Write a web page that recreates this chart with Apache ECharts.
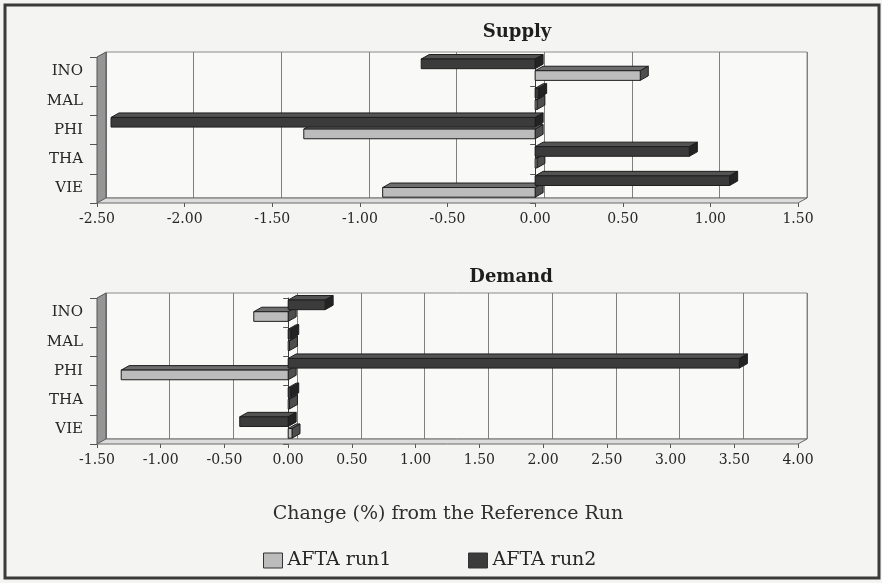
<!DOCTYPE html>
<html>
<head>
<meta charset="utf-8">
<script src="https://cdn.jsdelivr.net/npm/echarts@6/dist/echarts.min.js"></script>
<style>
  html, body { margin: 0; padding: 0; background: #f4f4f2; }
  #chart { width: 882px; height: 583px; }
</style>
</head>
<body>
<div id="chart"></div>
<script>
// ---- data ----
const categories = ['INO', 'MAL', 'PHI', 'THA', 'VIE'];
const seriesNames = ['AFTA run1', 'AFTA run2'];
const panelTitles = ['Supply', 'Demand'];
const axisTitle = 'Change (%) from the Reference Run';

const supplyRun1 = [0.60, 0.01, -1.32, 0.01, -0.87];
const supplyRun2 = [-0.65, 0.02, -2.42, 0.88, 1.11];
const demandRun1 = [-0.27, 0.01, -1.31, 0.01, 0.03];
const demandRun2 = [0.29, 0.02, 3.54, 0.02, -0.38];

const supplyScale = [-2.5, 1.5, 0.5];   // min, max, interval
const demandScale = [-1.5, 4.0, 0.5];

// ---- layout & style ----
const FONT = 'DejaVu Serif';
const PLOT_LEFT = 97, PLOT_W = 701, PLOT_H = 146;
const WALL_DX = 9, WALL_DY = 5;          // depth of the back wall
const BAR_DX = 8, BAR_DY = 4.5;          // depth of each bar prism
const panelTops = [57, 298];
// vertical slot of each run inside a category band (fractions of band height)
const slots = [[0.47, 0.80], [0.07, 0.40]];
const faceColors = [
  { front: '#bcbcbc', top: '#6e6e6e', side: '#4e4e4e' },
  { front: '#3b3b3b', top: '#535353', side: '#232323' }
];
const EDGE = '#1e1e1e';

const panels = [
  { runs: [supplyRun1, supplyRun2], scale: supplyScale },
  { runs: [demandRun1, demandRun2], scale: demandScale }
];

const grid = [], xAxis = [], yAxis = [], series = [];

function prismItem(runIdx) {
  return function (params, api) {
    const v = api.value(0), ci = api.value(1);
    const p0 = api.coord([0, ci]);
    const p1 = api.coord([v, ci]);
    const band = api.size([0, 1])[1];
    const top = p0[1] - band / 2;
    const yt = top + band * slots[runIdx][0];
    const yb = top + band * slots[runIdx][1];
    const xl = Math.min(p0[0], p1[0]);
    const xr = Math.max(p0[0], p1[0]);
    const c = faceColors[runIdx];
    return {
      type: 'group',
      children: [
        { type: 'polygon', shape: { points: [[xl, yt], [xr, yt], [xr + BAR_DX, yt - BAR_DY], [xl + BAR_DX, yt - BAR_DY]] },
          style: { fill: c.top, stroke: EDGE, lineWidth: 1 } },
        { type: 'polygon', shape: { points: [[xr, yt], [xr, yb], [xr + BAR_DX, yb - BAR_DY], [xr + BAR_DX, yt - BAR_DY]] },
          style: { fill: c.side, stroke: EDGE, lineWidth: 1 } },
        { type: 'rect', shape: { x: xl, y: yt, width: xr - xl, height: yb - yt },
          style: { fill: c.front, stroke: EDGE, lineWidth: 1 } }
      ]
    };
  };
}

// left wall and floor of each panel, built from the grid's own rectangle
function frameItem(params) {
  const cs = params.coordSys;
  const x0 = cs.x, y0 = cs.y, x1 = cs.x + cs.width, y1 = cs.y + cs.height;
  return {
    type: 'group',
    children: [
      { type: 'polygon', shape: { points: [[x0, y0], [x0, y1], [x0 + WALL_DX, y1 - WALL_DY], [x0 + WALL_DX, y0 - WALL_DY]] },
        style: { fill: '#969696', stroke: '#555', lineWidth: 1 } },
      { type: 'polygon', shape: { points: [[x0, y1], [x1, y1], [x1 + WALL_DX, y1 - WALL_DY], [x0 + WALL_DX, y1 - WALL_DY]] },
        style: { fill: '#dcdcdc', stroke: '#6a6a6a', lineWidth: 1 } }
    ]
  };
}

panels.forEach(function (panel, p) {
  const top = panelTops[p];
  const [mn, mx, step] = panel.scale;
  // front plane (bars, labels) and back wall (grid lines)
  grid.push({ left: PLOT_LEFT, top: top, width: PLOT_W, height: PLOT_H });
  grid.push({ left: PLOT_LEFT + WALL_DX, top: top - WALL_DY, width: PLOT_W, height: PLOT_H,
              show: true, backgroundColor: '#f9f9f8', borderColor: '#8c8c8c', borderWidth: 1 });

  xAxis.push({
    type: 'value', gridIndex: 2 * p, min: mn, max: mx, interval: step,
    axisLine: { show: false },
    axisTick: { show: true, length: 4, lineStyle: { color: '#555' } },
    splitLine: { show: false },
    axisLabel: { formatter: function (v) { return v.toFixed(2); }, fontFamily: FONT, fontSize: 14,
                 color: '#262626', margin: 9 }
  });
  xAxis.push({
    type: 'value', gridIndex: 2 * p + 1, min: mn, max: mx, interval: step,
    axisLine: { show: false }, axisTick: { show: false }, axisLabel: { show: false },
    splitLine: { show: true, lineStyle: { color: '#808080', width: 1 } }
  });

  yAxis.push({
    type: 'category', gridIndex: 2 * p, data: categories, inverse: true, position: 'left',
    axisLine: { show: false, onZero: false },
    axisTick: { show: true, length: 7, lineStyle: { color: '#555' } },
    axisLabel: { fontFamily: FONT, fontSize: 15, color: '#262626', margin: 14 }
  });
  yAxis.push({
    type: 'category', gridIndex: 2 * p, data: categories, inverse: true,
    axisLine: { show: true, onZero: true, lineStyle: { color: '#3a3a3a', width: 1 } },
    axisTick: { show: true, inside: true, length: 5, lineStyle: { color: '#555' } },
    axisLabel: { show: false }
  });
  yAxis.push({
    type: 'category', gridIndex: 2 * p + 1, data: categories, inverse: true, show: false
  });

  series.push({
    type: 'custom', name: 'frame' + p, xAxisIndex: 2 * p, yAxisIndex: 3 * p,
    data: [[0, 0]], renderItem: frameItem, z: 1, silent: true, clip: false
  });
  panel.runs.forEach(function (vals, r) {
    series.push({
      type: 'custom', name: seriesNames[r], xAxisIndex: 2 * p, yAxisIndex: 3 * p,
      data: vals.map(function (v, i) { return [v, i]; }),
      encode: { x: 0, y: 1 },
      renderItem: prismItem(r), clip: false, z: 2 + r,
      itemStyle: { color: faceColors[r].front, borderColor: EDGE, borderWidth: 1 }
    });
  });
});

const chart = echarts.init(document.getElementById('chart'), null, { renderer: 'canvas' });
chart.setOption({
  backgroundColor: '#f4f4f2',
  animation: false,
  title: [
    { text: panelTitles[0], left: 512, top: 18, textAlign: 'center',
      textStyle: { fontFamily: FONT, fontSize: 18, fontWeight: 'bold', color: '#1e1e1e' } },
    { text: panelTitles[1], left: 506, top: 263, textAlign: 'center',
      textStyle: { fontFamily: FONT, fontSize: 18, fontWeight: 'bold', color: '#1e1e1e' } },
    { text: axisTitle, left: 443, top: 500, textAlign: 'center',
      textStyle: { fontFamily: FONT, fontSize: 19, fontWeight: 'normal', color: '#2e2e2e' } }
  ],
  legend: [
    { data: [seriesNames[0]], left: 258, top: 546, icon: 'rect', itemWidth: 19, itemHeight: 15, itemGap: 6,
      itemStyle: { borderColor: '#333', borderWidth: 1 },
      textStyle: { fontFamily: FONT, fontSize: 19, color: '#262626' } },
    { data: [seriesNames[1]], left: 463, top: 546, icon: 'rect', itemWidth: 19, itemHeight: 15, itemGap: 6,
      itemStyle: { borderColor: '#333', borderWidth: 1 },
      textStyle: { fontFamily: FONT, fontSize: 19, color: '#262626' } }
  ],
  grid: grid,
  xAxis: xAxis,
  yAxis: yAxis,
  series: series,
  graphic: [
    { type: 'rect', shape: { x: 5, y: 5, width: 874, height: 573 }, silent: true,
      style: { fill: 'none', stroke: '#3a3a3a', lineWidth: 3 }, z: 100 }
  ]
});
</script>
</body>
</html>
